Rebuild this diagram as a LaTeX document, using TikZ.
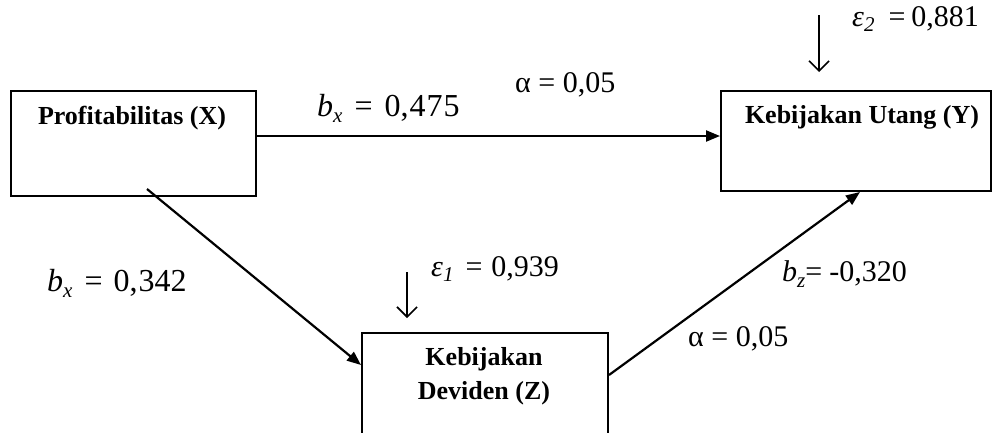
\documentclass[tikz,border=0pt]{standalone}
\usepackage{fontspec}
\setmainfont{Liberation Serif}
\newfontfamily\tnr{Liberation Serif}
\usetikzlibrary{arrows.meta,calc}
\newcommand\lsub[2]{\textit{#1}\raisebox{-0.4ex}{\fontsize{21}{21}\selectfont\textit{#2}}}
\begin{document}
\begin{tikzpicture}[x=1pt,y=-1pt,
  box/.style={draw,line width=2pt,rectangle,inner sep=0pt},
  boxtext/.style={font=\tnr\fontsize{26}{34}\selectfont\bfseries,align=center,inner sep=0pt},
  lbl/.style={font=\tnr\fontsize{30}{36}\selectfont,inner sep=0pt},
  mlbl/.style={font=\tnr\fontsize{32}{36}\selectfont,inner sep=0pt},
  conn/.style={line width=2.2pt,-{Triangle[length=14pt,width=11pt]}},
  err/.style={line width=1.6pt,-{Straight Barb[length=10pt,width=20pt,line width=1.6pt]}}]
\clip (0,0) rectangle (998,432);
\fill[white] (0,0) rectangle (998,432);
% boxes
\node[box,minimum width=245,minimum height=105,anchor=north west] (X) at (10,90) {};
\node[boxtext] (Xt) at (132,118) {Profitabilitas (X)};
\node[box,minimum width=270,minimum height=100,anchor=north west] (Y) at (720,90) {};
\node[boxtext] (Yt) at (862,117) {Kebijakan Utang (Y)};
\node[box,minimum width=246,minimum height=130,anchor=north west] (Z) at (361,332) {};
\node[boxtext] (Zt) at (484,376) {Kebijakan\\Deviden (Z)};
% connectors
\draw[conn] ($(X.north east)+(0,46)$) -- ($(Y.north west)+(0,46)$);
\coordinate (xs) at ($(X.south west)+(137,-8)$);
\draw[conn] (xs) -- ($(Z.north west)+(0,33)$);
\draw[conn] ($(Z.north east)+(0,43)$) -- ($(Y.south west)+(140,0)$);
% error arrows
\coordinate (e2) at (819,15);
\draw[err] (e2) -- ($(Y.north west)+(99,-18)$);
\coordinate (e1) at (407,272);
\draw[err] (e1) -- ($(Z.north west)+(46,-14)$);
% labels
\node[mlbl,anchor=west] (l1) at (317,108) {\lsub{b}{x}\hspace{12pt}=\hspace{12pt}0,\hspace{1pt}4\hspace{1pt}7\hspace{1pt}5};
\node[lbl,anchor=west] (l2) at (515,85) {α = 0,05};
\node[lbl,anchor=west] (l3) at (852,19) {\lsub{ε}{2}\hspace{14pt}=\hspace{6pt}0,881};
\node[lbl,anchor=west] (l4) at (431,269) {\lsub{ε}{1}\hspace{12pt}=\hspace{9pt}0,939};
\node[mlbl,anchor=west] (l5) at (47,283) {\lsub{b}{x}\hspace{12pt}=\hspace{11pt}0,\hspace{1pt}342};
\node[lbl,anchor=west] (l6) at (782,274) {\lsub{b}{z}=\hspace{7pt}-0,320};
\node[lbl,anchor=west] (l7) at (688,339) {α = 0,05};
\end{tikzpicture}
\end{document}
